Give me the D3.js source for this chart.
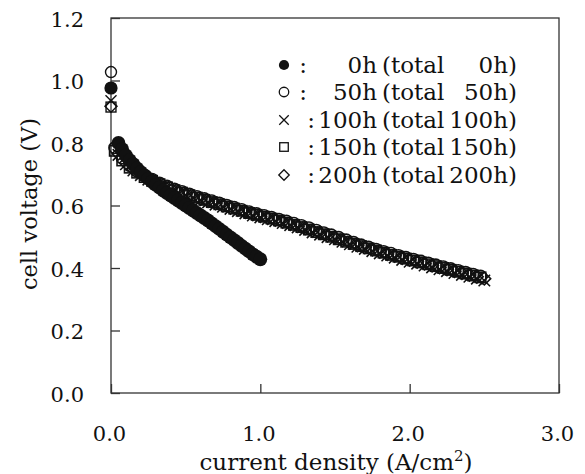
<!DOCTYPE html>
<html>
<head>
<meta charset="utf-8">
<script src="https://cdn.jsdelivr.net/npm/d3@7/dist/d3.min.js"></script>
<style>
  html, body { margin: 0; padding: 0; background: #fff; }
  svg { display: block; }
  text { font-family: "DejaVu Serif", "Liberation Serif", serif; fill: #111; }
</style>
</head>
<body>
<script>
// ---------------- data ----------------
const xTicks = [0.0, 1.0, 2.0, 3.0];
const yTicks = [0.0, 0.2, 0.4, 0.6, 0.8, 1.0, 1.2];
const xLabel = "current density (A/cm";
const yLabel = "cell voltage (V)";

// open-circuit voltages (current = 0)
const ocvValues = [0.976, 1.027, 0.935, 0.915, 0.918];

// 0h : filled circles
const current0h = [0.05,0.075,0.10,0.125,0.15,0.175,0.20,0.225,0.25,0.275,0.30,0.325,0.35,0.375,0.40,0.425,0.45,0.475,0.50,0.525,0.55,0.575,0.60,0.625,0.65,0.675,0.70,0.725,0.75,0.775,0.80,0.825,0.85,0.875,0.90,0.925,0.95,0.975,1.00];
const voltage0h = [0.800,0.780,0.760,0.745,0.732,0.719,0.707,0.696,0.686,0.676,0.666,0.657,0.648,0.640,0.632,0.624,0.616,0.608,0.600,0.592,0.584,0.576,0.568,0.560,0.552,0.543,0.534,0.525,0.516,0.507,0.498,0.489,0.480,0.471,0.462,0.453,0.444,0.436,0.428];

// sampling grids for the long-run curves
const currentA = [0.05,0.10,0.15,0.20,0.25,0.30,0.35,0.40,0.45,0.50,0.55,0.60,0.65,0.70,0.75,0.80,0.85,0.90,0.95,1.00,1.05,1.10,1.15,1.20,1.25,1.30,1.35,1.40,1.45,1.50,1.55,1.60,1.65,1.70,1.75,1.80,1.85,1.90,1.95,2.00,2.05,2.10,2.15,2.20,2.25,2.30,2.35,2.40,2.45,2.50];
const currentB = [0.025,0.075,0.125,0.175,0.225,0.275,0.325,0.375,0.425,0.475,0.525,0.575,0.625,0.675,0.725,0.775,0.825,0.875,0.925,0.975,1.025,1.075,1.125,1.175,1.225,1.275,1.325,1.375,1.425,1.475,1.525,1.575,1.625,1.675,1.725,1.775,1.825,1.875,1.925,1.975,2.025,2.075,2.125,2.175,2.225,2.275,2.325,2.375,2.425,2.475];

// 50h : open circles
const voltage50h = [0.785,0.752,0.728,0.710,0.696,0.684,0.672,0.662,0.653,0.645,0.637,0.629,0.622,0.615,0.608,0.601,0.594,0.587,0.580,0.574,0.568,0.562,0.556,0.550,0.543,0.536,0.529,0.521,0.513,0.506,0.498,0.490,0.482,0.474,0.467,0.460,0.453,0.447,0.440,0.434,0.428,0.422,0.416,0.410,0.404,0.398,0.392,0.386,0.380,0.374];
// 100h : crosses
const voltage100h = [0.762,0.732,0.712,0.697,0.683,0.671,0.660,0.650,0.641,0.633,0.625,0.617,0.610,0.603,0.596,0.589,0.582,0.575,0.568,0.562,0.556,0.550,0.544,0.537,0.530,0.522,0.514,0.507,0.499,0.492,0.484,0.476,0.468,0.461,0.454,0.447,0.440,0.433,0.426,0.420,0.414,0.408,0.402,0.396,0.390,0.384,0.378,0.372,0.366,0.360];
// 150h : squares
const voltage150h = [0.775,0.744,0.721,0.705,0.691,0.679,0.668,0.658,0.649,0.641,0.633,0.625,0.618,0.611,0.604,0.597,0.590,0.583,0.576,0.570,0.564,0.558,0.552,0.545,0.538,0.531,0.523,0.515,0.508,0.500,0.492,0.484,0.477,0.470,0.463,0.456,0.449,0.442,0.436,0.430,0.424,0.418,0.412,0.406,0.400,0.394,0.388,0.382,0.376,0.370];
// 200h : diamonds
const voltage200h = [0.766,0.736,0.716,0.701,0.687,0.675,0.664,0.654,0.645,0.637,0.629,0.621,0.614,0.607,0.600,0.593,0.586,0.579,0.572,0.566,0.560,0.554,0.548,0.541,0.534,0.527,0.519,0.512,0.504,0.497,0.489,0.481,0.473,0.466,0.459,0.452,0.445,0.439,0.432,0.426,0.420,0.414,0.408,0.402,0.396,0.390,0.384,0.378,0.372,0.366];

const legendHours = ["0h", "50h", "100h", "150h", "200h"];
const legendTotals = ["0h)", "50h)", "100h)", "150h)", "200h)"];
const symbols = ["filled", "circle", "cross", "square", "diamond"];

// ---------------- layout ----------------
const W = 585, H = 474;
const plot = { left: 111, right: 559, top: 18, bottom: 393 };

const svg = d3.select("body").append("svg").attr("width", W).attr("height", H);

const x = d3.scaleLinear().domain([0, 3]).range([plot.left, plot.right]);
const y = d3.scaleLinear().domain([0, 1.2]).range([plot.bottom, plot.top]);

const axisColor = "#333";

// frame
svg.append("rect")
  .attr("x", plot.left).attr("y", plot.top)
  .attr("width", plot.right - plot.left).attr("height", plot.bottom - plot.top)
  .attr("fill", "none").attr("stroke", axisColor).attr("stroke-width", 1.3);

// axes with inward ticks
const xAxis = d3.axisBottom(x).tickValues(xTicks).tickSizeInner(-9).tickSizeOuter(0)
  .tickFormat(d3.format(".1f")).tickPadding(0);
const gx = svg.append("g").attr("transform", `translate(0,${plot.bottom})`).call(xAxis);
gx.select(".domain").remove();
gx.selectAll(".tick line").attr("stroke", axisColor).attr("stroke-width", 1.3);
gx.selectAll(".tick text").attr("x", -2).attr("y", 48).attr("dy", 0).attr("font-size", 21)
  .attr("fill", "#111").attr("font-family", "DejaVu Serif");

const yAxis = d3.axisLeft(y).tickValues(yTicks).tickSizeInner(-9).tickSizeOuter(0)
  .tickFormat(d3.format(".1f"));
const gy = svg.append("g").attr("transform", `translate(${plot.left},0)`).call(yAxis);
gy.select(".domain").remove();
gy.selectAll(".tick line").attr("stroke", axisColor).attr("stroke-width", 1.3);
gy.selectAll(".tick text").attr("x", -27).attr("dy", "0.4em").attr("font-size", 21)
  .attr("fill", "#111").attr("font-family", "DejaVu Serif");

// axis titles
const xt = svg.append("text").attr("x", 336).attr("y", 470).attr("text-anchor", "middle")
  .attr("font-size", 23);
xt.append("tspan").text(xLabel);
xt.append("tspan").attr("dy", -9).attr("font-size", 15).text("2");
xt.append("tspan").attr("dy", 9).text(")");

svg.append("text").attr("transform", "translate(37,204) rotate(-90)")
  .attr("text-anchor", "middle").attr("font-size", 22.5).text(yLabel);

// ---------------- markers ----------------
function drawMarker(g, type, cx, cy, s, sw) {
  const col = "#111";
  if (type === "filled") {
    g.append("circle").attr("cx", cx).attr("cy", cy).attr("r", s * 0.6).attr("fill", col);
  } else if (type === "circle") {
    g.append("circle").attr("cx", cx).attr("cy", cy).attr("r", s * 0.5)
      .attr("fill", "none").attr("stroke", col).attr("stroke-width", sw);
  } else if (type === "cross") {
    const h = s * 0.5;
    g.append("path").attr("d", `M${cx-h},${cy-h}L${cx+h},${cy+h}M${cx-h},${cy+h}L${cx+h},${cy-h}`)
      .attr("stroke", col).attr("stroke-width", sw).attr("fill", "none");
  } else if (type === "square") {
    const h = s * 0.45;
    g.append("rect").attr("x", cx - h).attr("y", cy - h).attr("width", 2 * h).attr("height", 2 * h)
      .attr("fill", "none").attr("stroke", col).attr("stroke-width", sw);
  } else if (type === "diamond") {
    const h = s * 0.55;
    g.append("path").attr("d", `M${cx},${cy-h}L${cx+h},${cy}L${cx},${cy+h}L${cx-h},${cy}Z`)
      .attr("fill", "none").attr("stroke", col).attr("stroke-width", sw);
  }
}

const series = [
  { type: "diamond", xs: currentA, ys: voltage200h },
  { type: "square", xs: currentB, ys: voltage150h },
  { type: "cross", xs: currentA, ys: voltage100h },
  { type: "circle", xs: currentB, ys: voltage50h },
  { type: "filled", xs: current0h, ys: voltage0h }
];

const gData = svg.append("g");
series.forEach(s => {
  s.xs.forEach((xv, i) => drawMarker(gData, s.type, x(xv), y(s.ys[i]), 11.5, 1.6));
});
// OCV points
const ocvOrder = [4, 3, 2, 1, 0];
ocvOrder.forEach(i => drawMarker(gData, symbols[i], x(0), y(ocvValues[i]), 11, 1.4));

// ---------------- legend ----------------
const legendY = [65, 92, 120, 147, 175];
const colonX = [303, 303, 311, 311, 311];
const gl = svg.append("g");
legendHours.forEach((h, i) => {
  const cy = legendY[i];
  drawMarker(gl, symbols[i], 284, cy, symbols[i] === "filled" ? 8.5 : 9.5, 1.3);
  gl.append("text").attr("x", colonX[i]).attr("y", cy + 8).attr("text-anchor", "middle")
    .attr("font-size", 23).text(":");
  gl.append("text").attr("x", 377).attr("y", cy + 8).attr("text-anchor", "end")
    .attr("font-size", 23).text(h);
  gl.append("text").attr("x", 382).attr("y", cy + 8).attr("text-anchor", "start")
    .attr("font-size", 23).text("(total");
  gl.append("text").attr("x", 517).attr("y", cy + 8).attr("text-anchor", "end")
    .attr("font-size", 23).text(legendTotals[i]);
});
</script>
</body>
</html>
